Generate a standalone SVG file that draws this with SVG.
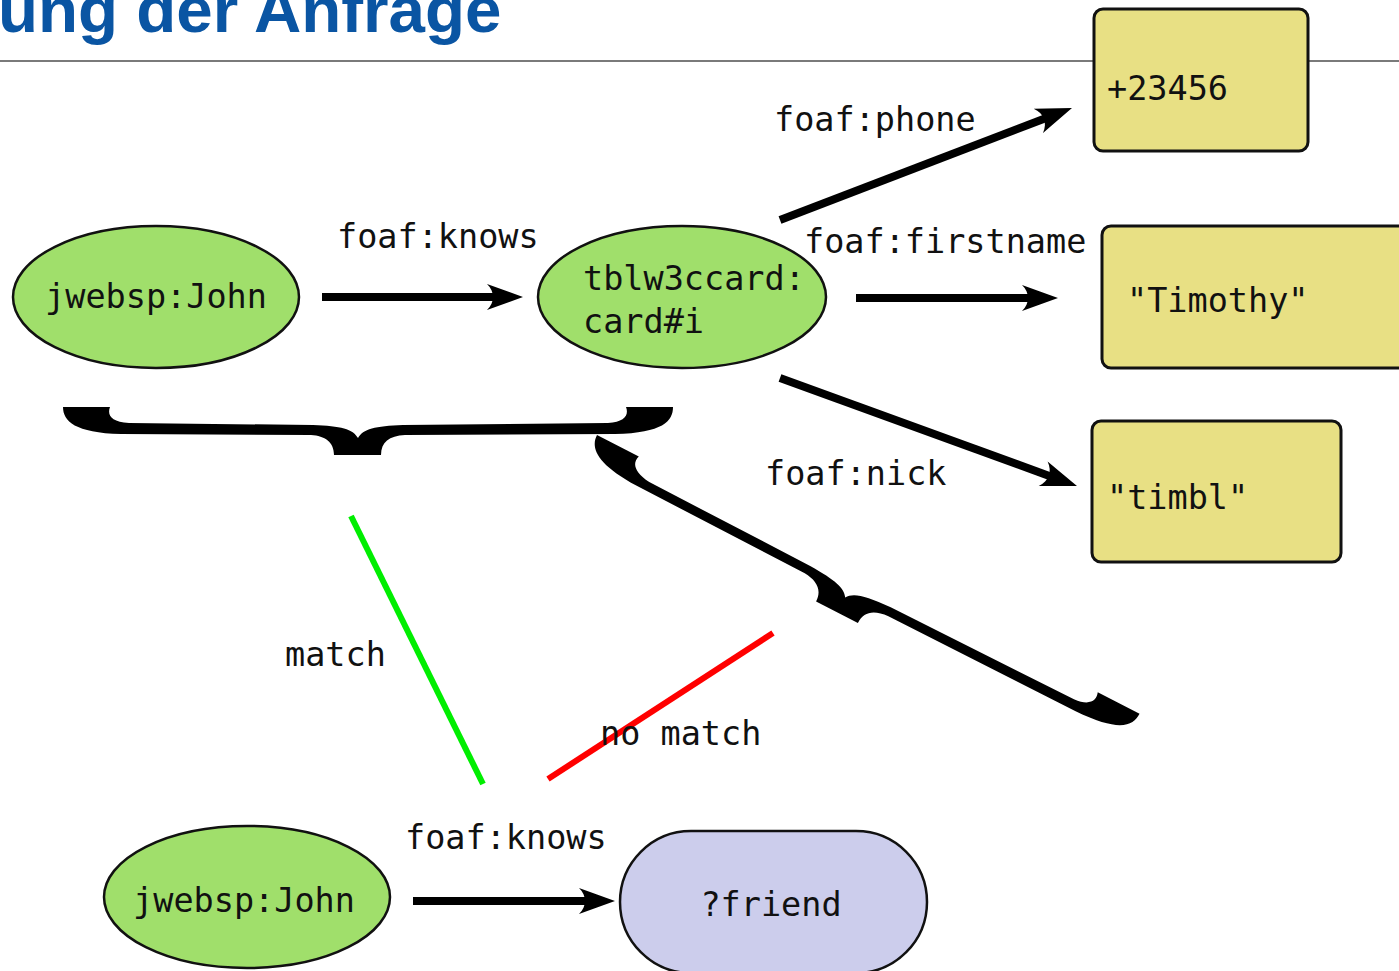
<svg xmlns="http://www.w3.org/2000/svg" width="1399" height="971" viewBox="0 0 1399 971">
<style>
.t{font-family:"DejaVu Sans Mono","Liberation Mono",monospace;font-size:33.5px;fill:#111}
.g{fill:#a0df6b;stroke:#111;stroke-width:2.5}
.y{fill:#e8e084;stroke:#111;stroke-width:3}
.p{fill:#cccdec;stroke:#111;stroke-width:2.5}
.a{stroke:#000;stroke-width:8;fill:none;marker-end:url(#ah)}
</style>
<defs>
<marker id="ah" markerUnits="userSpaceOnUse" orient="auto" refX="0" refY="0" markerWidth="80" markerHeight="80" viewBox="-40 -40 80 80" overflow="visible">
<path d="M20,0 L-16,-13 C-8,-5 -8,5 -16,13 Z" fill="#000"/>
</marker>
<path id="brace" d="M0,0 L47,0 C44,8 48,15 66,16 L250,18 C278,19 290,22 295,31 C300,22 312,19 340,18 L545,16 C562,15 566,8 563,0 L610,0 C610,14 600,26 552,27 L342,28 C326,29 318,35 318,48 L271,48 C271,35 262,29 248,28 L58,27 C12,26 0,14 0,0 Z" fill="#000"/>
<path id="brace2" d="M0,0 L47,0 C44,9 50,16 68,18 L250,19 C278,20 290,23 295,31 C300,23 312,20 340,19 L545,17 C562,16 566,8 563,0 L610,0 C610,14 600,26 552,27 L342,28 C326,29 318,35 318,48 L271,48 C271,35 262,29 248,28 L58,27 C12,26 0,14 0,0 Z" fill="#000"/>
</defs>
<rect width="1399" height="971" fill="#fff"/>
<text x="-2" y="32" font-family="Liberation Sans,Arial,sans-serif" font-weight="bold" font-size="65.5" fill="#0a55a3">ung der Anfrage</text>
<line x1="0" y1="61" x2="1399" y2="61" stroke="#7a7a7a" stroke-width="2"/>

<g id="connectors">
<line class="a" x1="322" y1="297" x2="503" y2="297"/>
<line class="a" x1="856" y1="298" x2="1038" y2="298"/>
<line class="a" x1="780" y1="220" x2="1053.3" y2="115.2"/>
<line class="a" x1="780" y1="378" x2="1058.2" y2="479.2"/>
<line class="a" x1="413" y1="901" x2="595" y2="901"/>
<line x1="351" y1="516" x2="483" y2="784" stroke="#00ee00" stroke-width="6"/>
<line x1="548" y1="779" x2="773" y2="633" stroke="#ff0000" stroke-width="6"/>
<text class="t" x="337" y="248">foaf:knows</text>
<text class="t" x="774" y="131">foaf:phone</text>
<text class="t" x="804" y="253">foaf:firstname</text>
<text class="t" x="765" y="485">foaf:nick</text>
<text class="t" x="285" y="666">match</text>
<text class="t" x="600" y="745">no match</text>
<text class="t" x="405" y="849">foaf:knows</text>
</g>

<g id="braces">
<use href="#brace" transform="translate(63,407)"/>
<use href="#brace2" transform="translate(597,435) rotate(27.2)"/>
</g>

<g id="n-john1">
<ellipse class="g" cx="156" cy="297" rx="143" ry="71"/>
<text class="t" x="156" y="308" text-anchor="middle">jwebsp:John</text>
</g>
<g id="n-card">
<ellipse class="g" cx="682" cy="297" rx="144" ry="71"/>
<text class="t" x="583" y="290">tblw3ccard:</text>
<text class="t" x="583" y="333">card#i</text>
</g>
<g id="n-phone">
<rect class="y" x="1094" y="9" width="214" height="142" rx="9"/>
<text class="t" x="1107" y="100">+23456</text>
</g>
<g id="n-timothy">
<rect class="y" x="1102" y="226" width="310" height="142" rx="9"/>
<text class="t" x="1127" y="312">"Timothy"</text>
</g>
<g id="n-timbl">
<rect class="y" x="1092" y="421" width="249" height="141" rx="9"/>
<text class="t" x="1107" y="509">"timbl"</text>
</g>
<g id="n-john2">
<ellipse class="g" cx="247" cy="897" rx="143" ry="71"/>
<text class="t" x="244" y="912" text-anchor="middle">jwebsp:John</text>
</g>
<g id="n-friend">
<rect class="p" x="620" y="831" width="307" height="142" rx="71"/>
<text class="t" x="771" y="916" text-anchor="middle">?friend</text>
</g>
</svg>
